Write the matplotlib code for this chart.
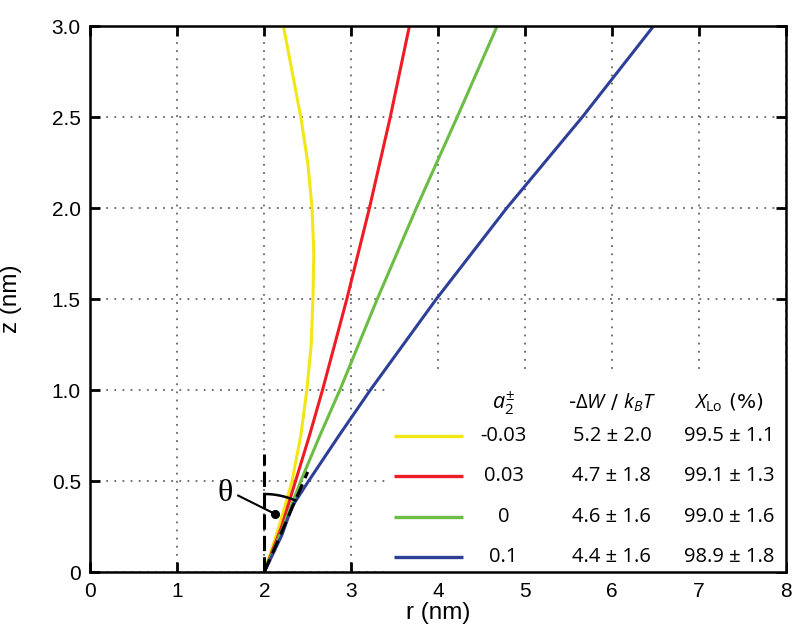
import numpy as np
import matplotlib
matplotlib.use("Agg")
import matplotlib.pyplot as plt
from matplotlib.patches import Rectangle

# ---------------- data ----------------
z_yellow = [0, 0.25, 0.5, 0.75, 1.0, 1.25, 1.5, 1.75, 2.0, 2.25, 2.5, 2.75, 3.0]
r_yellow = [2.0, 2.17, 2.32, 2.42, 2.49, 2.54, 2.56, 2.57, 2.55, 2.50, 2.42, 2.32, 2.22]

z_red = [0, 0.25, 0.5, 0.75, 1.0, 1.5, 2.0, 2.5, 3.0]
r_red = [2.0, 2.20, 2.36, 2.52, 2.67, 2.95, 3.21, 3.45, 3.67]

z_green = [0, 0.25, 0.5, 0.75, 1.0, 1.5, 2.0, 2.5, 3.0]
r_green = [2.0, 2.22, 2.42, 2.64, 2.87, 3.30, 3.75, 4.22, 4.68]

z_blue = [0, 0.2, 0.36, 0.5, 0.75, 1.0, 1.5, 2.0, 2.5, 3.0]
r_blue = [2.0, 2.20, 2.32, 2.51, 2.86, 3.22, 3.98, 4.79, 5.66, 6.48]

a2_labels = ["-0.03", "0.03", "0", "0.1"]
dW_labels = ["5.2 ± 2.0", "4.7 ± 1.8", "4.6 ± 1.6", "4.4 ± 1.6"]
XLo_labels = ["99.5 ± 1.1", "99.1 ± 1.3", "99.0 ± 1.6", "98.9 ± 1.8"]
colors = ["#f2e614", "#ee1c24", "#6cbd45", "#2e3f98"]

x_ticks = [0, 1, 2, 3, 4, 5, 6, 7, 8]
y_ticks = [0, 0.5, 1.0, 1.5, 2.0, 2.5, 3.0]
y_ticklabels = ["0", "0.5", "1.0", "1.5", "2.0", "2.5", "3.0"]

# ---------------- figure ----------------
plt.rcParams['mathtext.fontset'] = 'custom'
plt.rcParams['mathtext.rm'] = 'Open Sans'
plt.rcParams['mathtext.it'] = 'Open Sans:italic'

fig = plt.figure(figsize=(8, 6.41), dpi=100)
ax = fig.add_axes([0.1131, 0.1076, 0.869, 0.8518])
ax.set_xlim(0, 8)
ax.set_ylim(0, 3)
ax.set_axisbelow(True)

ax.grid(True, linestyle=(0, (1, 3.5)), color='#666666', linewidth=1.3)

# white box behind the legend table
ax.add_patch(Rectangle((3.42, 0), 8 - 3.42, 1.097, facecolor='white',
                       edgecolor='none', zorder=1))

series = [(r_yellow, z_yellow), (r_red, z_red), (r_green, z_green), (r_blue, z_blue)]
for (r, z), c in zip(series, colors):
    ax.plot(r, z, color=c, lw=2.2, zorder=2, solid_capstyle='butt')

# contact-angle construction
ax.plot([2, 2], [0, 0.65], color='black', lw=2.2, dashes=(5, 2), zorder=3)
ax.plot([2, 2.5], [0, 0.55], color='black', lw=2.2, dashes=(4.5, 2.2), zorder=3)
t = np.deg2rad(np.linspace(66.5, 90, 30))
ax.plot(2 + 0.8976 * np.cos(t), 0.4286 * np.sin(t), color='black', lw=1.8, zorder=3)
ax.plot([1.70, 2.12], [0.42, 0.32], color='black', lw=1.5, zorder=3)
ax.plot([2.12], [0.32], 'o', color='black', ms=5.5, zorder=3)
ax.text(1.55, 0.43, "θ", family='Liberation Serif', fontsize=23,
        ha='center', va='center', zorder=3)

# legend table
header_z = 0.93
rows_z = [0.745, 0.525, 0.305, 0.085]
lfs = 14.5
ax.text(4.755, header_z, r"$a_2^{\pm}$", fontsize=lfs + 1, ha='center', va='center', zorder=4)
ax.text(6.0, header_z, r"-$\Delta W$ / $k_B T$", fontsize=lfs, ha='center', va='center', zorder=4)
ax.text(7.35, header_z, r"$X_{\mathrm{Lo}}$ (%)", fontsize=lfs, ha='center', va='center', zorder=4)
for zc, c, a, d, x in zip(rows_z, colors, a2_labels, dW_labels, XLo_labels):
    ax.plot([3.49, 4.29], [zc, zc], color=c, lw=2.4, zorder=4, solid_capstyle='butt')
    ax.text(4.755, zc, a, fontsize=lfs, family='Open Sans', ha='center', va='center', zorder=4)
    ax.text(6.0, zc, d, fontsize=lfs, family='Open Sans', ha='center', va='center', zorder=4)
    ax.text(7.35, zc, x, fontsize=lfs, family='Open Sans', ha='center', va='center', zorder=4)

# axes styling
ax.set_xticks(x_ticks)
ax.set_xticklabels([str(v) for v in x_ticks])
ax.set_yticks(y_ticks)
ax.set_yticklabels(y_ticklabels)
ax.tick_params(direction='in', top=True, right=True, length=7, width=2,
               labelsize=15, pad=7)
for lab in ax.get_xticklabels() + ax.get_yticklabels():
    lab.set_family('Liberation Sans')
for s in ax.spines.values():
    s.set_linewidth(1.8)

ax.set_xlabel("r (nm)", fontsize=17.5, family='Liberation Sans')
ax.set_ylabel("z (nm)", fontsize=17.5, family='Liberation Sans')
ax.xaxis.set_label_coords(0.5, -0.055)
ax.yaxis.set_label_coords(-0.098, 0.5)

fig.savefig("out.png", dpi=100)
